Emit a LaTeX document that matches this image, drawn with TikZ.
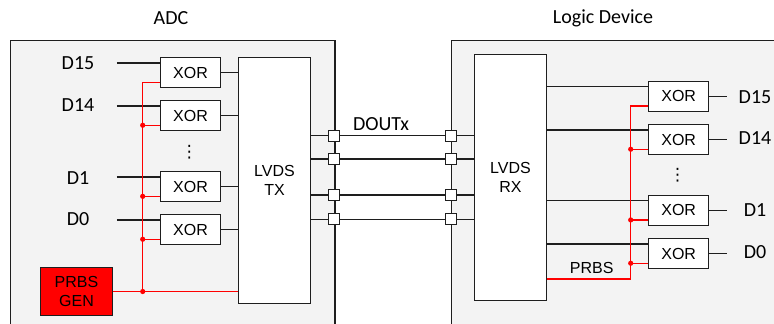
\documentclass[tikz,border=0pt]{standalone}
\usepackage{fontspec}
\setmainfont{Carlito}
\newfontfamily\boxfont{Liberation Sans}
\newfontfamily\symfont{DejaVu Sans}
\usetikzlibrary{positioning}
\definecolor{devgray}{HTML}{F3F3F3}
\definecolor{prbsred}{HTML}{FF0000}
\definecolor{rand}{HTML}{1E1E1E}

\begin{document}
\begin{tikzpicture}[
  x=1pt, y=-1pt,
  lbl/.style={font=\fontsize{20}{24}\selectfont, inner sep=0pt},
  devbox/.style={rectangle, draw=rand, fill=devgray, line width=1.3pt, anchor=north west},
  xorbox/.style={rectangle, draw=rand, fill=white, line width=1.3pt, minimum width=60pt,
                 minimum height=30pt, inner sep=0pt, font=\boxfont\fontsize{16}{18.5}\selectfont},
  lvds/.style={rectangle, draw=rand, fill=white, line width=1.3pt, minimum width=72.4pt,
               minimum height=246pt, align=center, font=\boxfont\fontsize{16}{18.5}\selectfont},
  pin/.style={rectangle, draw=rand, fill=white, line width=1.2pt, minimum size=11pt, inner sep=0pt},
  gen/.style={rectangle, draw=rand, fill=prbsred, line width=1.3pt, minimum width=71.6pt,
              minimum height=48.4pt, align=center, font=\boxfont\fontsize{16}{18.5}\selectfont},
  wire/.style={draw=rand, line width=1.3pt},
  redwire/.style={draw=prbsred, line width=1.3pt},
  dots/.style={inner sep=0pt, font=\symfont\fontsize{17}{20}\selectfont}
]
\useasboundingbox (0,0) rectangle (774,324);
\clip (0,0) rectangle (774,324);

% devices
\node[devbox, minimum width=324.3pt, minimum height=300pt] (adcdev) at (10,40) {};
\node[devbox, minimum width=340pt, minimum height=300pt] (logdev) at (450.7,40) {};
\node[lbl] (adc) at (171,18) {ADC};
\node[lbl] (logic) at (603,18) {Logic Device};

% ADC side
\node[lvds] (tx) at (274.5,180.5) {LVDS\\TX};
\node[xorbox] (xl15) at (190.5,72.5) {XOR};
\node[xorbox, below=11.8pt of xl15] (xl14) {XOR};
\node[xorbox] (xl1) at (190.5,186.7) {XOR};
\node[xorbox, below=11.6pt of xl1] (xl0) {XOR};
\node[dots] (vl) at (189.3,152) {⋮};
\node[gen] (prbsgen) at (76.5,291.5) {PRBS\\GEN};

\node[lbl] (dl15) at (78,63.5) {D15};
\node[lbl] (dl14) at (78,105.3) {D14};
\node[lbl] (dl1) at (78,177.7) {D1};
\node[lbl] (dl0) at (78,219.3) {D0};

\foreach \n in {15,14,1,0} {
  \coordinate (il\n) at ([xshift=-43pt,yshift=-6pt]xl\n.north west);
  \coordinate (rl\n) at ([yshift=6pt]xl\n.south west);
  \draw[wire] (il\n) -- (il\n -| xl\n.west);
  \draw[wire] (xl\n.east) -- (xl\n.east -| tx.west);
}

% PRBS bus, ADC side
\coordinate (busl) at (142.7,0);
\draw[redwire] (prbsgen.east) -- (prbsgen.east -| tx.west);
\draw[redwire] (rl15) -| (busl |- prbsgen.east);
\foreach \n in {14,1,0} {
  \draw[redwire] (rl\n -| busl) -- (rl\n);
  \fill[prbsred] (rl\n -| busl) circle (2.6);
}
\fill[prbsred] (busl |- prbsgen.east) circle (2.6);

% Logic device side
\node[lvds] (rx) at (510.5,177.5) {LVDS\\RX};
\node[xorbox] (xr15) at (678.7,96.3) {XOR};
\node[xorbox, below=12pt of xr15] (xr14) {XOR};
\node[xorbox] (xr1) at (678.7,210.3) {XOR};
\node[xorbox, below=12pt of xr1] (xr0) {XOR};
\node[dots] (vr) at (677.7,175.5) {⋮};

\node[lbl] (dr15) at (755,96.7) {D15};
\node[lbl] (dr14) at (755,138.5) {D14};
\node[lbl] (dr1) at (755,210.5) {D1};
\node[lbl] (dr0) at (755,252.5) {D0};

\foreach \n in {15,14,1,0} {
  \coordinate (ir\n) at ([yshift=-6pt]xr\n.north west);
  \coordinate (rr\n) at ([yshift=6pt]xr\n.south west);
  \coordinate (or\n) at ([xshift=18pt]xr\n.east);
  \draw[wire] (ir\n -| rx.east) -- (ir\n);
  \draw[wire] (xr\n.east) -- (or\n);
}

% PRBS bus, logic side
\coordinate (busr) at (630.7,0);
\coordinate (prbsy) at (0,279);
\draw[redwire] (rx.east |- prbsy) -| (busr |- rr15) -- (rr15);
\foreach \n in {14,1,0} {
  \draw[redwire] (rr\n -| busr) -- (rr\n);
  \fill[prbsred] (rr\n -| busr) circle (2.6);
}
\node[font=\boxfont\fontsize{16}{18.5}\selectfont, inner sep=0pt] (prbslbl) at (591.7,268.3) {PRBS};

% DOUTx lanes
\foreach \i/\y in {1/135.7,2/159,3/195,4/219.3} {
  \node[pin] (pl\i) at (334.3,\y) {};
  \node[pin] (pr\i) at (450.7,\y) {};
}
\foreach \i in {1,...,4} {
  \draw[wire] (pl\i -| tx.east) -- (pl\i);
  \draw[wire] (pl\i) -- (pr\i);
  \draw[wire] (pr\i) -- (pr\i -| rx.west);
}
\node[lbl] (dout) at (381,124.3) {DOUTx};
\end{tikzpicture}
\end{document}
